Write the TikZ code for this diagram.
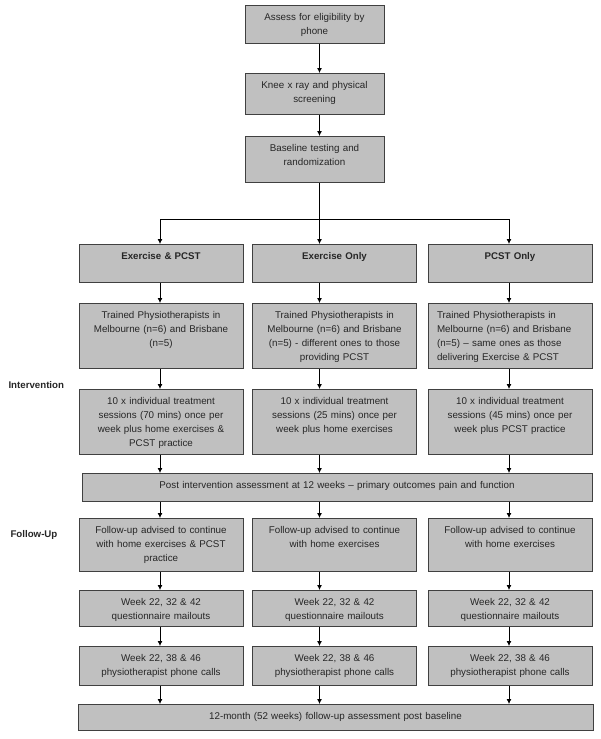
\documentclass[tikz,border=0pt]{standalone}
\usepackage{fontspec}
\setmainfont{Liberation Sans}
\usetikzlibrary{arrows.meta}
\definecolor{boxfill}{HTML}{C0C0C0}
\definecolor{boxline}{HTML}{404040}
\begin{document}
\begin{tikzpicture}[x=1pt,y=-1pt,
        box/.style={draw=boxline,fill=boxfill,line width=1pt,anchor=north,align=center,
            inner xsep=3pt,inner ysep=4pt,text height=11pt,text width=#1,
            font=\fontsize{9.8}{14}\selectfont,text=black!85},
        box/.default=158pt,
        title/.style={box,font=\fontsize{9.7}{14}\selectfont\bfseries},
        side/.style={anchor=west,font=\fontsize{9.7}{12}\selectfont\bfseries,text=black!85},
        arr/.style={-{Latex[length=5pt,width=5pt]},line width=0.8pt}]
    \useasboundingbox (0,0) rectangle (600,739);
    \coordinate (c1) at (160,0);
    \coordinate (c2) at (319.5,0);
    \coordinate (c3) at (509,0);
    % screening
    \node[box=133pt,text depth=19pt] (assess) at (314.5,5) {Assess for eligibility by\\phone};
    \node[box=133pt,text depth=22pt] (screen) at (314.5,73) {Knee x ray and physical\\screening};
    \node[box=133pt,text depth=27pt] (random) at (314.5,136) {Baseline testing and\\randomization};
    % groups
    \node[title,text depth=19pt] (grp1) at (161,244) {Exercise \& PCST};
    \node[title,text depth=19pt] (grp2) at (334.5,244) {Exercise Only};
    \node[title,text depth=19pt] (grp3) at (510,244) {PCST Only};
    % intervention
    \node[side] (intv) at (5,385) {Intervention};
    \node[box,text depth=46pt] (phys1) at (161,303) {Trained Physiotherapists in\\Melbourne (n=6) and Brisbane\\(n=5)};
    \node[box,text depth=46pt] (phys2) at (334.5,303) {Trained Physiotherapists in\\Melbourne (n=6) and Brisbane\\(n=5) - different ones to those\\providing PCST};
    \node[box=146pt,inner xsep=9pt,align=left,text depth=46pt] (phys3) at (510,303) {Trained Physiotherapists in\\Melbourne (n=6) and Brisbane\\(n=5) -- same ones as those\\delivering Exercise \& PCST};
    \node[box,text depth=46pt] (sess1) at (161,389) {10 x individual treatment\\sessions (70 mins) once per\\week plus home exercises \&\\PCST practice};
    \node[box,text depth=46pt] (sess2) at (334.5,389) {10 x individual treatment\\sessions (25 mins) once per\\week plus home exercises};
    \node[box,text depth=46pt] (sess3) at (510,389) {10 x individual treatment\\sessions (45 mins) once per\\week plus PCST practice};
    \node[box=504pt,text depth=9pt] (post) at (337,473) {Post intervention assessment at 12 weeks -- primary outcomes pain and function};
    % follow-up
    \node[side] (follow) at (7,535) {Follow-Up};
    \node[box,text depth=34pt] (fu1) at (161,518) {Follow-up advised to continue\\with home exercises \& PCST\\practice};
    \node[box,text depth=34pt] (fu2) at (334.5,518) {Follow-up advised to continue\\with home exercises};
    \node[box,text depth=34pt] (fu3) at (510,518) {Follow-up advised to continue\\with home exercises};
    \node[box,text depth=17pt] (mail1) at (161,590) {Week 22, 32 \& 42\\questionnaire mailouts};
    \node[box,text depth=17pt] (mail2) at (334.5,590) {Week 22, 32 \& 42\\questionnaire mailouts};
    \node[box,text depth=17pt] (mail3) at (510,590) {Week 22, 32 \& 42\\questionnaire mailouts};
    \node[box,text depth=20pt] (call1) at (161,646) {Week 22, 38 \& 46\\physiotherapist phone calls};
    \node[box,text depth=20pt] (call2) at (334.5,646) {Week 22, 38 \& 46\\physiotherapist phone calls};
    \node[box,text depth=20pt] (call3) at (510,646) {Week 22, 38 \& 46\\physiotherapist phone calls};
    \node[box=509pt,text depth=7pt] (final) at (335.5,704) {12-month (52 weeks) follow-up assessment post baseline};
    % connectors
    \draw[arr] (assess.south -| c2) -- (screen.north -| c2);
    \draw[arr] (screen.south -| c2) -- (random.north -| c2);
    \draw[arr] (random.south -| c2) -- (grp2.north -| c2);
    \coordinate (split) at (c2 |- 0,219);
    \draw[arr] (split) -| (c1 |- grp1.north);
    \draw[arr] (split) -| (c3 |- grp3.north);
    \foreach \k in {1,2,3} {
        \draw[arr] (grp\k.south -| c\k) -- (phys\k.north -| c\k);
        \draw[arr] (phys\k.south -| c\k) -- (sess\k.north -| c\k);
        \draw[arr] (sess\k.south -| c\k) -- (post.north -| c\k);
        \draw[arr] (post.south -| c\k) -- (fu\k.north -| c\k);
        \draw[arr] (fu\k.south -| c\k) -- (mail\k.north -| c\k);
        \draw[arr] (mail\k.south -| c\k) -- (call\k.north -| c\k);
        \draw[arr] (call\k.south -| c\k) -- (final.north -| c\k);
    }
\end{tikzpicture}
\end{document}
